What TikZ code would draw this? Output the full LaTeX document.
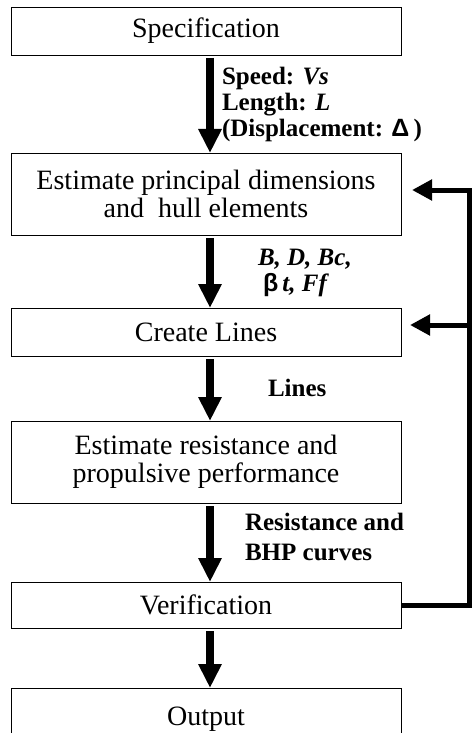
\documentclass[tikz,border=0pt]{standalone}
\usepackage{fontspec}
\setmainfont{Liberation Serif}
\newfontfamily\greekfont{Liberation Sans}
\usetikzlibrary{arrows.meta}

\begin{document}
\begin{tikzpicture}[x=1pt, y=-1pt]
\tikzset{ >={Triangle[width=22pt,length=24pt]}, inner sep=0pt, outer sep=0pt,
  stepbox/.style={draw, line width=0.9pt, minimum width=390pt, align=center,
                  font=\fontsize{28}{28}\selectfont},
  flow/.style={->, line width=7.5pt, shorten <=3pt},
  backline/.style={line width=5pt},
  backarrow/.style={backline, -{Triangle[width=20pt,length=20pt]}},
  note/.style={anchor=north west, align=left, font=\fontsize{25}{26}\selectfont\bfseries},
}

\useasboundingbox (0,0) rectangle (472,733);

% steps
\node [stepbox, minimum height=48pt] (S) at (206,31)  {Specification};
\node [stepbox, minimum height=82pt] (E) at (206,194) {Estimate principal dimensions\\and~ hull elements};
\node [stepbox, minimum height=48pt] (C) at (206,332) {Create Lines};
\node [stepbox, minimum height=82pt] (R) at (206,462) {Estimate resistance and\\propulsive performance};
\node [stepbox, minimum height=46pt] (V) at (206,605) {Verification};
\node [stepbox, minimum height=62pt] (O) at (206,719) {Output};

\draw [flow] ([xshift=4pt]S.south) -- ([xshift=4pt]E.north);
\draw [flow] ([xshift=4pt]E.south) -- ([xshift=4pt]C.north);
\draw [flow] ([xshift=4pt]C.south) -- ([xshift=4pt]R.north);
\draw [flow] ([xshift=4pt]R.south) -- ([xshift=4pt]V.north);
\draw [flow] ([xshift=4pt]V.south) -- ([xshift=4pt]O.north);

% feedback from verification
\coordinate (topturn) at (469.5,190);
\coordinate (midturn) at (469.5,325);
\coordinate (Etip) at ([xshift=11pt]E.east);
\coordinate (Ctip) at ([xshift=9pt]C.east);

\draw [backarrow] (V.east) -| (topturn) -- (Etip |- topturn);
\draw [backarrow] (midturn) -- (Ctip |- midturn);

% data passed along
\node [note] (sp) at (222,67) {Speed: \textit{Vs}\\Length: \textit{L}\\(Displacement: {\greekfont Δ}\,)};
\node [note] (dims) at (258,249) {\textit{B, D, Bc,}\\\hspace{5pt}{\greekfont β}\,\textit{t, Ff}};
\node [note] (ln) at (268,379) {Lines};
\node [note, font=\fontsize{25}{30}\selectfont\bfseries] (rc) at (245,513) {Resistance and\\BHP curves};

\end{tikzpicture}
\end{document}
